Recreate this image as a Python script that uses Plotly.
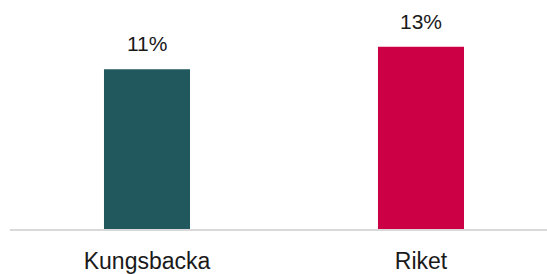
import plotly.graph_objects as go

categories = ["Kungsbacka", "Riket"]
values = [11.4, 13.0]
value_labels = ["11%", "13%"]
colors = ["#21585E", "#CC0044"]

fig = go.Figure()
fig.add_trace(go.Bar(
    x=categories, y=values, width=0.314,
    marker=dict(color=colors, line=dict(width=0)),
    hoverinfo="skip",
))
for c, v, t in zip(categories, values, value_labels):
    fig.add_annotation(x=c, y=v, text=t, showarrow=False, yanchor="bottom",
                       yshift=12, font=dict(size=21, color="#1a1a1a",
                                            family="Liberation Sans, Arial, sans-serif"))

fig.update_layout(
    width=547, height=274,
    margin=dict(l=10, r=0, t=5, b=40),
    paper_bgcolor="white", plot_bgcolor="white",
    showlegend=False,
    font=dict(family="Liberation Sans, Arial, sans-serif", color="#1a1a1a", size=23),
    xaxis=dict(range=[-0.5, 1.4599], showline=True, linecolor="#D9D9D9", linewidth=2,
               showgrid=False, zeroline=False, ticks="outside", ticklen=10,
               tickcolor="rgba(0,0,0,0)", fixedrange=True),
    yaxis=dict(range=[0, 15.98], visible=False, showgrid=False, zeroline=False,
               fixedrange=True),
)
fig.write_html("out.html", config={"displayModeBar": False},
               post_script="document.body.style.margin='0';document.body.style.overflow='hidden';")
